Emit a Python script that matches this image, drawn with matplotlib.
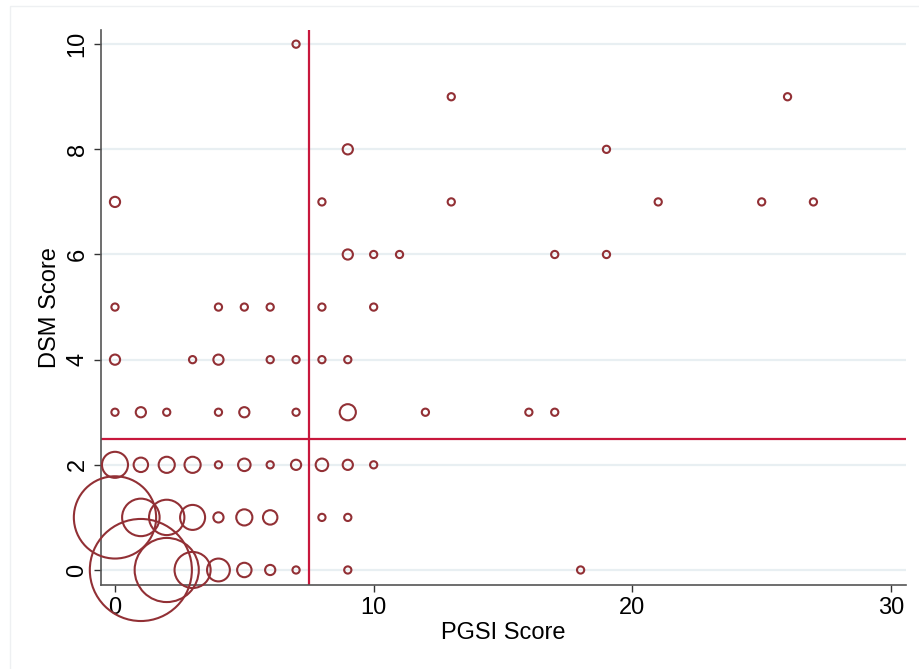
import numpy as np
import matplotlib.pyplot as plt
from matplotlib.patches import Rectangle

plt.rcParams['font.family'] = ['Liberation Sans', 'DejaVu Sans']

# frequency-weighted PGSI vs DSM scores
pgsi = [1, 2, 3, 4, 5, 6, 7, 9, 18,
        0, 1, 2, 3, 4, 5, 6, 8, 9,
        0, 1, 2, 3, 4, 5, 6, 7, 8, 9, 10,
        0, 1, 2, 4, 5, 7, 9, 12, 16, 17,
        0, 3, 4, 6, 7, 8, 9,
        0, 4, 5, 6, 8, 10,
        9, 10, 11, 17, 19,
        0, 8, 13, 21, 25, 27,
        9, 19,
        13, 26,
        7]
dsm = [0, 0, 0, 0, 0, 0, 0, 0, 0,
       1, 1, 1, 1, 1, 1, 1, 1, 1,
       2, 2, 2, 2, 2, 2, 2, 2, 2, 2, 2,
       3, 3, 3, 3, 3, 3, 3, 3, 3, 3,
       4, 4, 4, 4, 4, 4, 4,
       5, 5, 5, 5, 5, 5,
       6, 6, 6, 6, 6,
       7, 7, 7, 7, 7, 7,
       8, 8,
       9, 9,
       10]
freq = [200, 79, 25, 10, 4, 2, 1, 1, 1,
        130, 27, 24, 12, 2, 5, 4, 1, 1,
        13, 4, 5, 5, 1, 3, 1, 2, 3, 2, 1,
        1, 2, 1, 1, 2, 1, 5, 1, 1, 1,
        2, 1, 2, 1, 1, 1, 1,
        1, 1, 1, 1, 1, 1,
        2, 1, 1, 1, 1,
        2, 1, 1, 1, 1, 1,
        2, 1,
        1, 1,
        1]

pgsi_cut = 7.5
dsm_cut = 2.5

fig = plt.figure(figsize=(9.2, 6.69), dpi=100)
ax = fig.add_axes([0.1098, 0.1256, 0.875, 0.8296])

# light outer frame (runs off the right and bottom edges)
fig.patches.append(Rectangle((10 / 920, -0.05), 1.2, 1 - 6 / 669 + 0.05,
                             transform=fig.transFigure, fill=False,
                             edgecolor='#eef0f2', linewidth=1))

ax.set_xlim(-0.54, 30.58)
ax.set_ylim(-0.285, 10.27)

ax.set_xticks([0, 10, 20, 30])
ax.set_yticks([0, 2, 4, 6, 8, 10])
ax.grid(axis='y', color='#e8eff2', linewidth=1.6)
ax.set_axisbelow(True)

for side in ['top', 'right']:
    ax.spines[side].set_visible(False)
for side in ['left', 'bottom']:
    ax.spines[side].set_color('#555555')
    ax.spines[side].set_linewidth(1.2)

ax.tick_params(axis='both', length=5, width=1, color='#333333',
               labelsize=17, pad=4)
plt.setp(ax.get_yticklabels(), rotation=90, va='center')

ax.axvline(pgsi_cut, color='#c8173c', linewidth=1.6, zorder=2)
ax.axhline(dsm_cut, color='#c8173c', linewidth=1.6, zorder=2)

sizes = 27 * np.array(freq)
ax.scatter(pgsi, dsm, s=sizes, facecolors='none', edgecolors='#923035',
           linewidths=1.5, clip_on=False, zorder=3)

ax.set_xlabel('PGSI Score', fontsize=17, labelpad=2)
ax.set_ylabel('DSM Score', fontsize=17, labelpad=4)

fig.savefig('out.png', dpi=100, facecolor='white')
